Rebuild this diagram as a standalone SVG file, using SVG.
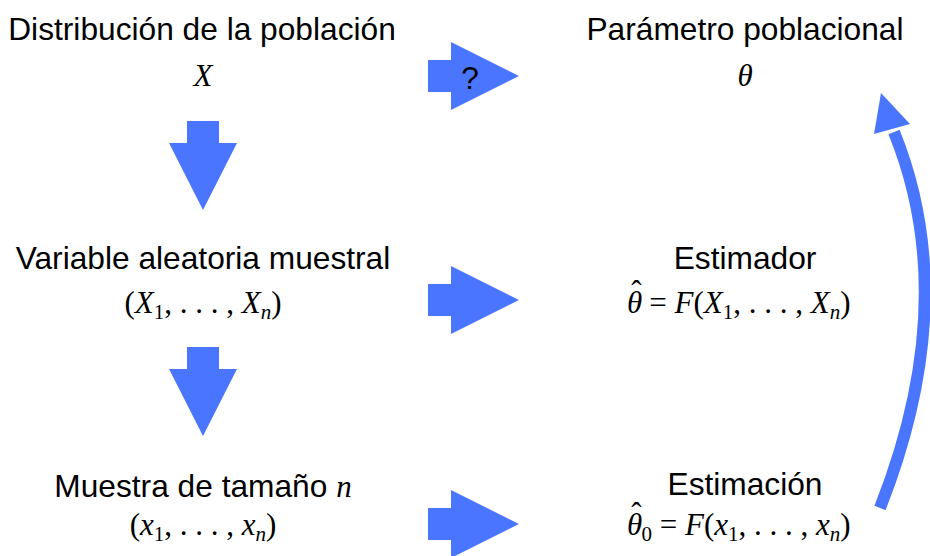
<svg xmlns="http://www.w3.org/2000/svg" width="930" height="556" viewBox="0 0 930 556">
<style>
.t{font-family:"Liberation Sans",Arial,sans-serif;font-size:31.7px;fill:#000;text-anchor:middle}
.m{font-family:"Liberation Serif","Times New Roman",serif;font-style:italic;font-size:31px;fill:#000;text-anchor:middle}
.l{text-anchor:start}
.u{font-style:normal}
.s{font-size:21px}
.a{fill:#4a76ff}
</style>
<defs>
<path id="ra" d="M0 -16 H23 V-34 L91 0 L23 34 V16 H0 Z"/>
<path id="da" d="M-16 0 H16 V22 H34 L0 89 L-34 22 H-16 Z"/>
</defs>
<g id="connectors" class="a">
<use href="#ra" x="428" y="76"/>
<use href="#ra" x="428" y="300"/>
<use href="#ra" x="428" y="524"/>
<use href="#da" x="203" y="121"/>
<use href="#da" x="203" y="347"/>
<path d="M880 508 Q962 300 894 132" fill="none" stroke="#4a76ff" stroke-width="12"/>
<path d="M881 93 L910 124 L874 134 Z"/>
<text x="470" y="89" class="t">?</text>
</g>
<g id="poblacion">
<text x="202" y="40" class="t">Distribución de la población</text>
<text x="203" y="86" class="m">X</text>
</g>
<g id="parametro">
<text x="745" y="40" class="t">Parámetro poblacional</text>
<text x="745" y="86" class="m">θ</text>
</g>
<g id="variable">
<text x="203" y="269" class="t">Variable aleatoria muestral</text>
<text x="203" y="313" class="m"><tspan class="u">(</tspan>X<tspan class="s u" dy="6">1</tspan><tspan class="u" dy="-6">, . . . , </tspan>X<tspan class="s" dy="6">n</tspan><tspan class="u" dy="-6">)</tspan></text>
</g>
<g id="estimador">
<text x="745" y="269" class="t">Estimador</text>
<text x="627" y="313" class="m l">θ<tspan class="u" dx="-11" dy="-11">ˆ</tspan><tspan class="u" dy="11"> = </tspan>F<tspan class="u">(</tspan>X<tspan class="s u" dy="6">1</tspan><tspan class="u" dy="-6">, . . . , </tspan>X<tspan class="s" dy="6">n</tspan><tspan class="u" dy="-6">)</tspan></text>
</g>
<g id="muestra">
<text x="203" y="497" class="t">Muestra de tamaño <tspan class="m">n</tspan></text>
<text x="203" y="535" class="m"><tspan class="u">(</tspan>x<tspan class="s u" dy="6">1</tspan><tspan class="u" dy="-6">, . . . , </tspan>x<tspan class="s" dy="6">n</tspan><tspan class="u" dy="-6">)</tspan></text>
</g>
<g id="estimacion">
<text x="745" y="495" class="t">Estimación</text>
<text x="627" y="535" class="m l">θ<tspan class="u" dx="-11" dy="-11">ˆ</tspan><tspan class="s u" dy="17">0</tspan><tspan class="u" dy="-6"> = </tspan>F<tspan class="u">(</tspan>x<tspan class="s u" dy="6">1</tspan><tspan class="u" dy="-6">, . . . , </tspan>x<tspan class="s" dy="6">n</tspan><tspan class="u" dy="-6">)</tspan></text>
</g>
</svg>
